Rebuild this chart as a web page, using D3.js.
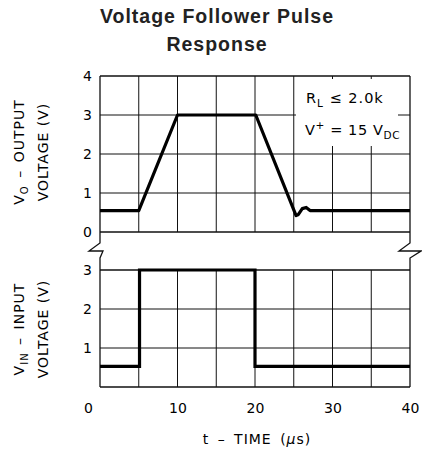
<!DOCTYPE html>
<html><head><meta charset="utf-8">
<script src="https://cdn.jsdelivr.net/npm/d3@7"></script>
<style>
body{margin:0;background:#fff;}
svg{display:block;}
.lbl{font-family:"DejaVu Sans",sans-serif;fill:#000;}
</style></head>
<body><svg id="c" width="422" height="457"></svg>
<script>
// ---- data ----
const timeTicks = [0, 10, 20, 30, 40];
const outTicks = [0, 1, 2, 3, 4];
const inTicks = [1, 2, 3];
const outT = [0, 5.0, 10.0, 20.1, 25.3, 25.6, 26.1, 26.6, 27.1, 40];
const outV = [0.55, 0.55, 3.0, 3.0, 0.42, 0.45, 0.6, 0.63, 0.55, 0.55];
const inT = [0, 5.1, 5.1, 20.0, 20.0, 40];
const inV = [0.53, 0.53, 3.0, 3.0, 0.53, 0.53];
const gridT = [5, 10, 15, 20, 25, 30, 35];

const svg = d3.select("#c");
const x = d3.scaleLinear([0, 40], [100, 410]);
const yTop = d3.scaleLinear([0, 4], [232, 76]);
const yBot = d3.scaleLinear([0, 3], [387, 270]);
const g = svg.append("g");

// title
const title = svg.append("text").attr("x", 217).attr("text-anchor", "middle")
  .style("font-family", "'Liberation Sans',Arial,sans-serif").style("font-weight", "bold")
  .style("font-size", "19.5px").style("letter-spacing", "1px").attr("fill", "#222");
title.append("tspan").attr("x", 217).attr("y", 23).text("Voltage Follower Pulse");
title.append("tspan").attr("x", 217).attr("y", 51).text("Response");

function line(x1, y1, x2, y2, w) {
  g.append("line").attr("x1", x1).attr("y1", y1).attr("x2", x2).attr("y2", y2)
    .attr("stroke", "#111").attr("stroke-width", w || 1);
}
gridT.forEach(t => { line(x(t), yTop(4), x(t), yTop(0)); line(x(t), yBot(3), x(t), yBot(0)); });
[1, 2, 3].forEach(v => line(x(0), yTop(v), x(40), yTop(v)));
[1, 2].forEach(v => line(x(0), yBot(v), x(40), yBot(v)));
// borders
line(x(0), yTop(4), x(40), yTop(4), 1.3);
line(x(0), yTop(0), x(40), yTop(0), 1.3);
line(x(0), yBot(3), x(40), yBot(3), 1.3);
line(x(0), yBot(0), x(40), yBot(0), 1.3);
// sides with break
const brk = (xx, dx) => [[xx, yTop(4)], [xx, 243], [xx - 11, 251], [xx + dx, 251], [xx, 258], [xx, yBot(0)]];
const pl = d3.line();
g.append("path").attr("d", pl(brk(x(0), 3))).attr("fill", "none").attr("stroke", "#111").attr("stroke-width", 1.3);
g.append("path").attr("d", pl(brk(x(40), 11))).attr("fill", "none").attr("stroke", "#111").attr("stroke-width", 1.3);

// annotation box
g.append("rect").attr("x", 296).attr("y", 79).attr("width", 102).attr("height", 67).attr("fill", "#fff");
const a1 = svg.append("text").attr("class", "lbl").attr("x", 306).attr("y", 103)
  .style("font-size", "14.5px").style("letter-spacing", "1px");
a1.append("tspan").text("R");
a1.append("tspan").attr("dy", 4).style("font-size", "10.5px").text("L");
a1.append("tspan").attr("dy", -4).text(" \u2264 2.0k");
const a2 = svg.append("text").attr("class", "lbl").attr("x", 305).attr("y", 135)
  .style("font-size", "14.5px").style("letter-spacing", "0.6px");
a2.append("tspan").text("V");
a2.append("tspan").attr("dy", -6).style("font-size", "10.5px").text("+");
a2.append("tspan").attr("dy", 6).text(" = 15 V");
a2.append("tspan").attr("dy", 4).style("font-size", "10.5px").text("DC");

// signals
const ln1 = d3.line().x(d => x(d[0])).y(d => yTop(d[1])).curve(d3.curveLinear);
const ln2 = d3.line().x(d => x(d[0])).y(d => yBot(d[1]));
svg.append("path").attr("d", ln1(outT.map((t, i) => [t, outV[i]]))).attr("fill", "none")
  .attr("stroke", "#000").attr("stroke-width", 3.2).attr("stroke-linejoin", "round");
svg.append("path").attr("d", ln2(inT.map((t, i) => [t, inV[i]]))).attr("fill", "none")
  .attr("stroke", "#000").attr("stroke-width", 3.2).attr("stroke-linejoin", "miter");

// axes
const axL1 = svg.append("g").attr("transform", "translate(92,0)")
  .call(d3.axisLeft(yTop).tickValues(outTicks).tickSize(0).tickPadding(0).tickFormat(d3.format("d")));
const axL2 = svg.append("g").attr("transform", "translate(92,0)")
  .call(d3.axisLeft(yBot).tickValues(inTicks).tickSize(0).tickPadding(0).tickFormat(d3.format("d")));
const axB = svg.append("g").attr("transform", "translate(0,403)")
  .call(d3.axisBottom(x).tickValues(timeTicks).tickSize(0).tickPadding(0).tickFormat(d3.format("d")));
[axL1, axL2, axB].forEach(a => {
  a.select(".domain").remove();
  a.selectAll("text").attr("class", "lbl").style("font-size", "14px").attr("fill", "#000");
});
axB.selectAll(".tick").filter(d => d === 0).select("text").attr("x", -12);

// axis titles
const xt = svg.append("text").attr("class", "lbl").attr("x", 257).attr("y", 444)
  .attr("text-anchor", "middle").style("font-size", "14px")
  .style("letter-spacing", "1px").style("word-spacing", "3px");
xt.append("tspan").text("t \u2013 TIME (");
xt.append("tspan").style("font-style", "italic").text("\u03bc");
xt.append("tspan").text("s)");

function ytitle(cy, main, sub, rest) {
  const t1 = svg.append("text").attr("class", "lbl").attr("transform", `translate(24,${cy}) rotate(-90)`)
    .attr("text-anchor", "middle").style("font-size", "14px")
    .style("letter-spacing", "1px").style("word-spacing", "2px");
  t1.append("tspan").text(main);
  t1.append("tspan").attr("dy", 4).style("font-size", "10px").text(sub);
  t1.append("tspan").attr("dy", -4).text(rest);
  svg.append("text").attr("class", "lbl").attr("transform", `translate(48,${cy}) rotate(-90)`)
    .attr("text-anchor", "middle").style("font-size", "14px")
    .style("letter-spacing", "1px").text("VOLTAGE (V)");
}
ytitle(152, "V", "O", " \u2013 OUTPUT");
ytitle(329, "V", "IN", " \u2013 INPUT");
</script></body></html>
